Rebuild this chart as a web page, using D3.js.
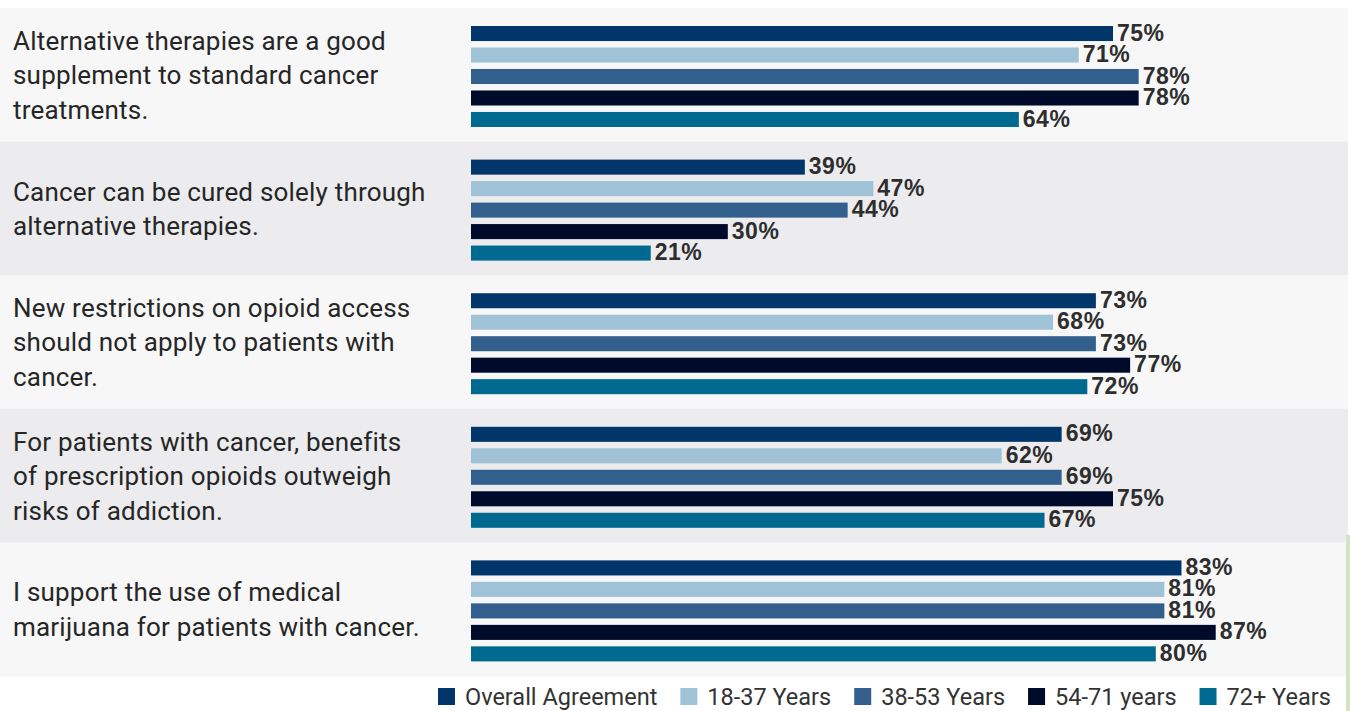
<!DOCTYPE html>
<html>
<head>
<meta charset="utf-8">
<script src="https://cdn.jsdelivr.net/npm/d3@7"></script>
<style>
  body { margin: 0; background: #fff; }
  svg { display: block; }
</style>
</head>
<body>
<svg width="1350" height="711"></svg>
<script>
// Statements (one panel each), wrapped the way the picture breaks them
var statements = [
    ['Alternative therapies are a good', 'supplement to standard cancer', 'treatments.'],
    ['Cancer can be cured solely through', 'alternative therapies.'],
    ['New restrictions on opioid access', 'should not apply to patients with', 'cancer.'],
    ['For patients with cancer, benefits', 'of prescription opioids outweigh', 'risks of addiction.'],
    ['I support the use of medical', 'marijuana for patients with cancer.']
];

var seriesNames = ['Overall Agreement', '18-37 Years', '38-53 Years', '54-71 years', '72+ Years'];
var seriesColors = ['#00366a', '#a0c2d7', '#335f8c', '#000a2a', '#006990'];

// percent agreeing, one array per series, in statement order
var overall = [75, 39, 73, 69, 83];
var age18_37 = [71, 47, 68, 62, 81];
var age38_53 = [78, 44, 73, 69, 81];
var age54_71 = [78, 30, 77, 75, 87];
var age72plus = [64, 21, 72, 67, 80];

var seriesValues = [overall, age18_37, age38_53, age54_71, age72plus];

var svg = d3.select('svg');

var panelTop = 8, panelBottom = 676, panelRight = 1348;

// one band per statement panel
var yPanel = d3.scaleBand()
    .domain(d3.range(statements.length))
    .range([panelTop, panelBottom]);

// bars inside a panel
var ySeries = d3.scaleBand()
    .domain(d3.range(seriesNames.length))
    .range([18, 119])
    .paddingInner(0.3);

var x = d3.scaleLinear()
    .domain([0, 100])
    .range([471, 1327]);

// panel backgrounds
svg.selectAll('.panel')
    .data(statements)
    .enter().append('rect')
    .attr('class', 'panel')
    .attr('x', 0)
    .attr('y', (d, i) => yPanel(i))
    .attr('width', panelRight)
    .attr('height', yPanel.bandwidth() + 0.5)
    .style('fill', (d, i) => i % 2 === 0 ? '#f7f7f7' : '#ececee');

// thin green edge at bottom right of the picture
svg.append('rect')
    .attr('x', 1346)
    .attr('y', 535)
    .attr('width', 4)
    .attr('height', 176)
    .style('fill', '#d3e3c3');

var groups = svg.selectAll('.group')
    .data(statements)
    .enter().append('g')
    .attr('class', 'group')
    .attr('transform', (d, i) => 'translate(0,' + yPanel(i) + ')');

// statement text
var lineHeight = 34.5;
groups.append('text')
    .attr('class', 'statement')
    .style('font-family', 'Roboto, "Noto Sans", sans-serif')
    .style('font-size', '26px')
    .style('letter-spacing', '0.2px')
    .style('fill', '#262626')
    .each(function(lines) {
        var mid = yPanel.bandwidth() / 2;
        d3.select(this).selectAll('tspan')
            .data(lines)
            .enter().append('tspan')
            .attr('x', 13)
            .attr('y', (l, j) => mid + (j - (lines.length - 1) / 2) * lineHeight + 9.5)
            .text(l => l);
    });

// bars and value labels
groups.each(function(d, gi) {
    var g = d3.select(this);
    var rows = seriesValues.map((vals, si) => ({ s: si, v: vals[gi] }));

    g.selectAll('.bar')
        .data(rows)
        .enter().append('rect')
        .attr('class', 'bar')
        .attr('x', x(0))
        .attr('y', r => ySeries(r.s))
        .attr('width', r => x(r.v) - x(0))
        .attr('height', ySeries.bandwidth())
        .style('fill', r => seriesColors[r.s]);

    g.selectAll('.value')
        .data(rows)
        .enter().append('text')
        .attr('class', 'value')
        .attr('x', r => x(r.v) + 4)
        .attr('y', r => ySeries(r.s) + ySeries.bandwidth() - 0.5)
        .style('font-family', '"Liberation Sans", Arial, sans-serif')
        .style('font-weight', 'bold')
        .style('font-size', '23px')
        .style('letter-spacing', '0.5px')
        .style('fill', '#2e2e2e')
        .text(r => r.v + '%');
});

// legend
var legend = svg.append('g').attr('class', 'legend');
var lx = 438;
seriesNames.forEach(function(name, i) {
    legend.append('rect')
        .attr('x', lx)
        .attr('y', 688)
        .attr('width', 17)
        .attr('height', 17)
        .style('fill', seriesColors[i]);
    var t = legend.append('text')
        .attr('x', lx + 27)
        .attr('y', 705)
        .style('font-family', 'Roboto, "Noto Sans", sans-serif')
        .style('font-size', '23.5px')
        .style('fill', '#333')
        .text(name);
    lx += 27 + t.node().getComputedTextLength() + 23;
});
</script>
</body>
</html>
